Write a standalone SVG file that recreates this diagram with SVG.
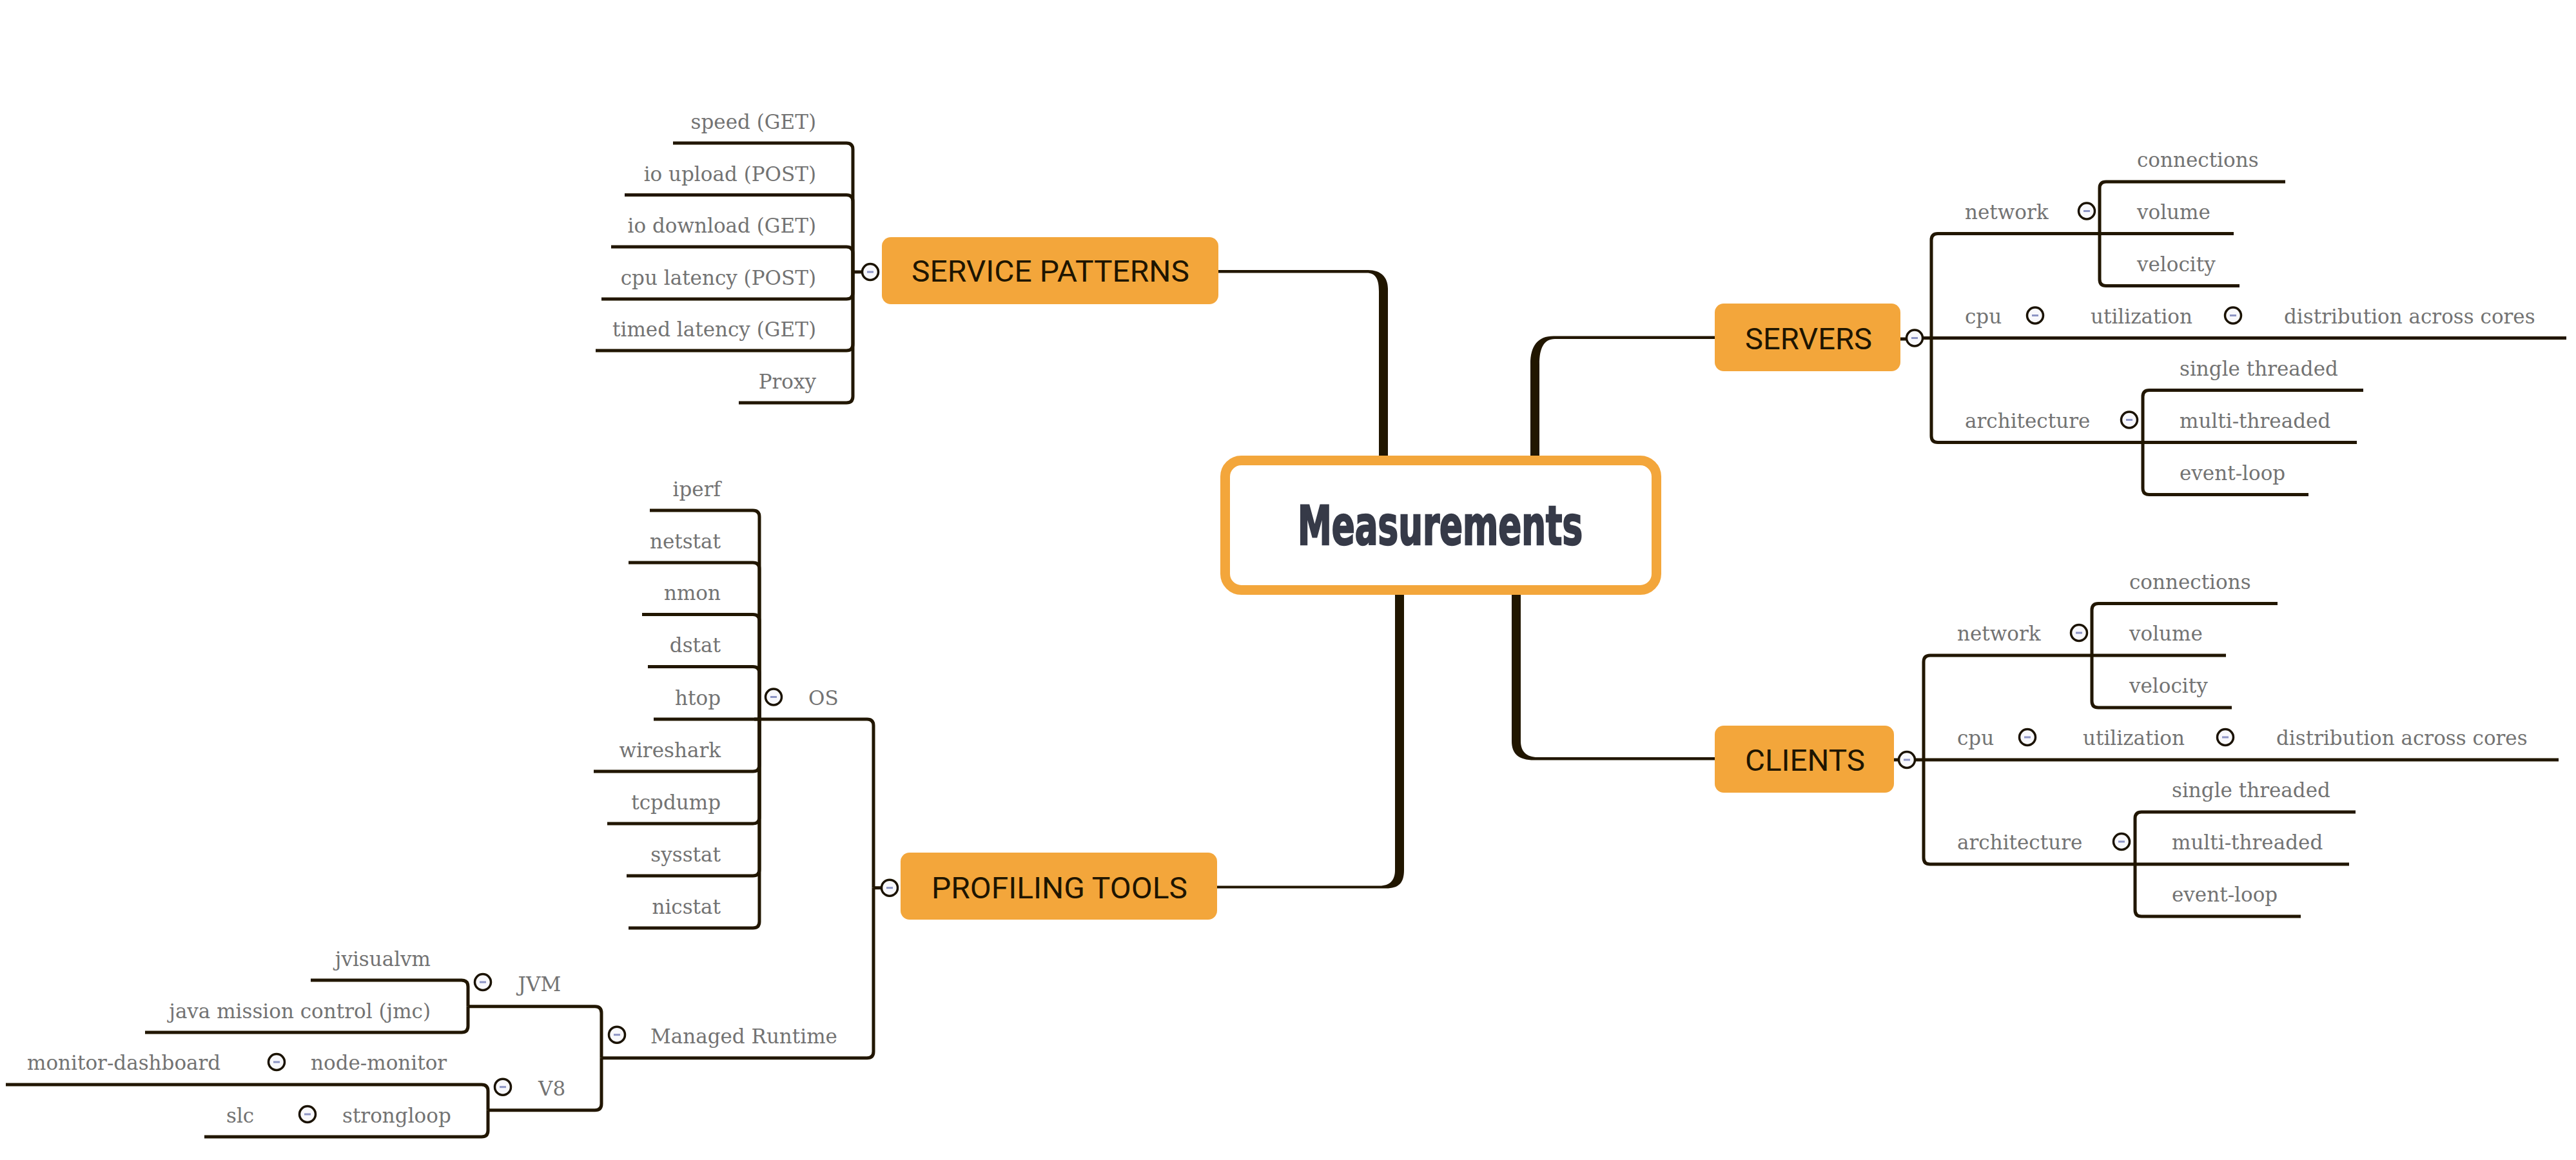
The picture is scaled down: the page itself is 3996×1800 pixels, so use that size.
<svg xmlns="http://www.w3.org/2000/svg" xmlns:xlink="http://www.w3.org/1999/xlink" width="3996" height="1800" viewBox="0 0 3996 1800">
<style>
.lbl{font-family:"DejaVu Serif","Liberation Serif",serif;font-size:31px;fill:#737373}
.end{text-anchor:end}
.ln{fill:none;stroke:#211600;stroke-width:5}
.br{fill:#211600}
.box{fill:#f3a63b}
.bt{font-family:Roboto,"Liberation Sans",sans-serif;font-size:47px;fill:#1e1500;text-anchor:middle}
</style>
<defs>
<g id="col">
<circle r="12.5" fill="#f8f8fc" stroke="#1a1200" stroke-width="3.5"/>
<line x1="-5" y1="0" x2="5" y2="0" stroke="#8c94c4" stroke-width="3"/>
</g>
<g id="sub">
<path class="ln" d="M2945 1179 H3969"/>
<path class="ln" d="M2984 1179 V1027 Q2984 1017 2994 1017 H3453"/>
<path class="ln" d="M3245 1017 V946.5 Q3245 936.5 3255 936.5 H3533"/>
<path class="ln" d="M3245 1017 V1088 Q3245 1098 3255 1098 H3462"/>
<path class="ln" d="M2984 1179 V1331 Q2984 1341 2994 1341 H3644"/>
<path class="ln" d="M3312 1341 V1270 Q3312 1260 3322 1260 H3654"/>
<path class="ln" d="M3312 1341 V1412 Q3312 1422 3322 1422 H3569"/>
<use xlink:href="#col" x="2958" y="1179"/>
<use xlink:href="#col" x="3225" y="982"/>
<use xlink:href="#col" x="3145" y="1144"/>
<use xlink:href="#col" x="3452" y="1144"/>
<use xlink:href="#col" x="3291" y="1306"/>
<text class="lbl" x="3036" y="994">network</text>
<text class="lbl" x="3303" y="913.5">connections</text>
<text class="lbl" x="3303" y="994">volume</text>
<text class="lbl" x="3303" y="1075">velocity</text>
<text class="lbl" x="3036" y="1156">cpu</text>
<text class="lbl" x="3231" y="1156">utilization</text>
<text class="lbl" x="3531" y="1156">distribution across cores</text>
<text class="lbl" x="3036" y="1318">architecture</text>
<text class="lbl" x="3369" y="1237">single threaded</text>
<text class="lbl" x="3369" y="1318">multi-threaded</text>
<text class="lbl" x="3369" y="1399">event-loop</text>
</g>
</defs>

<g id="connectors">
<path class="br" d="M2153 712 V448 C2153 430 2142 419 2122 419 H1890 V423.5 H2120 C2134 423.5 2139 433 2139 452 V712 Z"/>
<path class="br" d="M2374 712 V565 C2374 537 2385 521.5 2410 521.5 H2660 V526 H2412 C2395 526 2388 540 2388 565 V712 Z"/>
<path class="br" d="M2164 918 V1350 C2164 1366 2156 1374.5 2140 1374.5 H1888 V1378.5 H2150 C2170 1378.5 2178 1370 2178 1350 V918 Z"/>
<path class="br" d="M2345 918 V1150 C2345 1169 2355 1179.5 2380 1179.5 H2660 V1175 H2385 C2368 1175 2359 1166 2359 1150 V918 Z"/>
<path class="ln" d="M1337 422 H1323"/>
<path class="ln" d="M1323 422 V232 Q1323 222 1313 222 H1044"/>
<path class="ln" d="M1323 422 V312.5 Q1323 302.5 1313 302.5 H969"/>
<path class="ln" d="M1323 422 V393 Q1323 383 1313 383 H948"/>
<path class="ln" d="M1323 422 V454 Q1323 464 1313 464 H933"/>
<path class="ln" d="M1323 422 V534 Q1323 544 1313 544 H924"/>
<path class="ln" d="M1323 422 V615 Q1323 625 1313 625 H1146"/>
<path class="ln" d="M1367 1377.7 H1355"/>
<path class="ln" d="M1355 1377.7 V1126 Q1355 1116 1345 1116 H1170"/>
<path class="ln" d="M1355 1377.7 V1631.7 Q1355 1641.7 1345 1641.7 H933"/>
<path class="ln" d="M1178 1116 V802 Q1178 792 1168 792 H1008"/>
<path class="ln" d="M1178 1116 V883 Q1178 873 1168 873 H975"/>
<path class="ln" d="M1178 1116 V963.5 Q1178 953.5 1168 953.5 H996"/>
<path class="ln" d="M1178 1116 V1044.5 Q1178 1034.5 1168 1034.5 H1005"/>
<path class="ln" d="M1178 1116 H1014"/>
<path class="ln" d="M1178 1116 V1187 Q1178 1197 1168 1197 H921"/>
<path class="ln" d="M1178 1116 V1268 Q1178 1278 1168 1278 H942"/>
<path class="ln" d="M1178 1116 V1349 Q1178 1359 1168 1359 H972"/>
<path class="ln" d="M1178 1116 V1430 Q1178 1440 1168 1440 H975"/>
<path class="ln" d="M933 1641.7 V1571.7 Q933 1561.7 923 1561.7 H726"/>
<path class="ln" d="M933 1641.7 V1712.7 Q933 1722.7 923 1722.7 H757"/>
<path class="ln" d="M726 1561.7 V1531 Q726 1521 716 1521 H482"/>
<path class="ln" d="M726 1561.7 V1592 Q726 1602 716 1602 H225"/>
<path class="ln" d="M757 1722.7 V1693 Q757 1683 747 1683 H9"/>
<path class="ln" d="M757 1722.7 V1754 Q757 1764 747 1764 H317"/>
<path class="ln" d="M2948 526 H2958"/>
<path class="ln" d="M2938 1179 H2948"/>
</g>

<g id="central">
<rect x="1900.5" y="714.5" width="669" height="201" rx="25" fill="#ffffff" stroke="#f3a63b" stroke-width="15"/>
<text x="2234" y="845" font-family="'Liberation Sans Narrow','DejaVu Sans Condensed','Liberation Sans',sans-serif" font-weight="bold" font-size="84" fill="#363a48" stroke="#363a48" stroke-width="2.5" text-anchor="middle" textLength="442" lengthAdjust="spacingAndGlyphs">Measurements</text>
</g>

<g id="service-patterns">
<rect class="box" x="1368" y="368" width="522" height="104" rx="14"/>
<text class="bt" x="1629.5" y="437" textLength="431" lengthAdjust="spacingAndGlyphs">SERVICE PATTERNS</text>
<use xlink:href="#col" x="1350" y="422"/>
<text class="lbl end" x="1266" y="200">speed (GET)</text>
<text class="lbl end" x="1266" y="280.5">io upload (POST)</text>
<text class="lbl end" x="1266" y="361">io download (GET)</text>
<text class="lbl end" x="1266" y="442">cpu latency (POST)</text>
<text class="lbl end" x="1266" y="522">timed latency (GET)</text>
<text class="lbl end" x="1266" y="603">Proxy</text>
</g>

<g id="servers">
<rect class="box" x="2660" y="471" width="288" height="105" rx="14"/>
<text class="bt" x="2805.5" y="541.5" textLength="197" lengthAdjust="spacingAndGlyphs">SERVERS</text>
<use xlink:href="#sub" transform="translate(12,-654.5)"/>
</g>

<g id="clients">
<rect class="box" x="2660" y="1126" width="278" height="104" rx="14"/>
<text class="bt" x="2800" y="1196" textLength="186" lengthAdjust="spacingAndGlyphs">CLIENTS</text>
<use xlink:href="#sub"/>
</g>

<g id="profiling-tools">
<rect class="box" x="1397" y="1323" width="491" height="104" rx="14"/>
<text class="bt" x="1643.5" y="1394" textLength="397" lengthAdjust="spacingAndGlyphs">PROFILING TOOLS</text>
<use xlink:href="#col" x="1380" y="1377.7"/>
</g>

<g id="os">
<use xlink:href="#col" x="1200" y="1081.5"/>
<text class="lbl" x="1254" y="1093.5">OS</text>
<text class="lbl end" x="1118" y="769.5">iperf</text>
<text class="lbl end" x="1118" y="850.5">netstat</text>
<text class="lbl end" x="1118" y="931">nmon</text>
<text class="lbl end" x="1118" y="1012">dstat</text>
<text class="lbl end" x="1118" y="1093.5">htop</text>
<text class="lbl end" x="1118" y="1174.5">wireshark</text>
<text class="lbl end" x="1118" y="1255.5">tcpdump</text>
<text class="lbl end" x="1118" y="1336.5">sysstat</text>
<text class="lbl end" x="1118" y="1417.5">nicstat</text>
</g>

<g id="managed-runtime">
<use xlink:href="#col" x="957" y="1605.7"/>
<text class="lbl" x="1009" y="1618.5">Managed Runtime</text>
</g>

<g id="jvm">
<use xlink:href="#col" x="749" y="1524"/>
<text class="lbl" x="803.6" y="1538">JVM</text>
<text class="lbl end" x="668" y="1498.5">jvisualvm</text>
<text class="lbl end" x="668" y="1579.5">java mission control (jmc)</text>
</g>

<g id="v8">
<use xlink:href="#col" x="780" y="1686.7"/>
<text class="lbl" x="835" y="1699.5">V8</text>
<use xlink:href="#col" x="429" y="1648"/>
<text class="lbl" x="482" y="1660">node-monitor</text>
<text class="lbl" x="42" y="1660">monitor-dashboard</text>
<use xlink:href="#col" x="477" y="1729"/>
<text class="lbl" x="531" y="1741.5">strongloop</text>
<text class="lbl" x="351" y="1741.5">slc</text>
</g>
</svg>
